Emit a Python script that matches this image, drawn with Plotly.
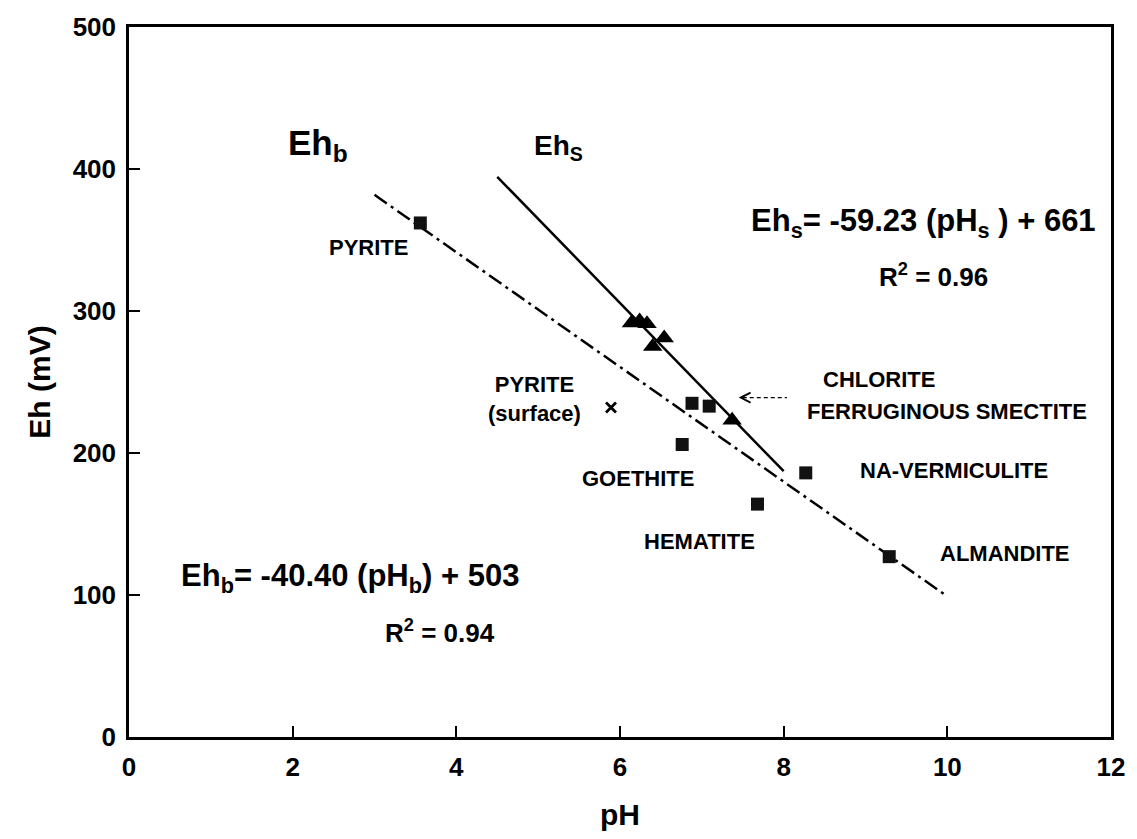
import plotly.graph_objects as go

# Surface Eh/pH measurements (triangles)
ph_surface = [6.14, 6.24, 6.33, 6.40, 6.54, 7.37]
eh_surface = [291.5, 293.0, 291.0, 275.0, 281.0, 223.0]

# Bulk mineral measurements (squares)
minerals = ["PYRITE", "CHLORITE", "FERRUGINOUS SMECTITE", "GOETHITE",
            "NA-VERMICULITE", "HEMATITE", "ALMANDITE"]
ph_bulk = [3.56, 6.88, 7.09, 6.76, 8.27, 7.68, 9.29]
eh_bulk = [362.0, 235.0, 233.0, 206.0, 186.0, 164.0, 127.0]

# Pyrite surface point (cross)
ph_pyrite_surface = [5.89]
eh_pyrite_surface = [232.0]

# Regression fits and their pH spans
slope_s, intercept_s, r2_s = -59.23, 661, 0.96
slope_b, intercept_b, r2_b = -40.40, 503, 0.94
span_s = [4.5, 8.0]
span_b = [3.0, 10.0]

x_ticks = [0, 2, 4, 6, 8, 10, 12]
y_ticks = [0, 100, 200, 300, 400, 500]

FONT = "Liberation Sans, Arial, Helvetica, sans-serif"

fig = go.Figure()

fig.add_trace(go.Scatter(
    x=span_b, y=[slope_b * v + intercept_b for v in span_b],
    mode="lines", line=dict(color="black", width=2.5, dash="15px,5px,3px,5px"),
    hoverinfo="skip", showlegend=False))
fig.add_trace(go.Scatter(
    x=span_s, y=[slope_s * v + intercept_s for v in span_s],
    mode="lines", line=dict(color="black", width=2.5),
    hoverinfo="skip", showlegend=False))

fig.add_trace(go.Scatter(
    x=ph_bulk, y=eh_bulk, mode="markers", text=minerals,
    marker=dict(symbol="square", size=13, color="#111111",
                line=dict(color="#111111", width=0)),
    showlegend=False))
fig.add_trace(go.Scatter(
    x=ph_surface, y=eh_surface, mode="markers",
    marker=dict(symbol="triangle-up", size=17, color="black",
                line=dict(width=0)),
    showlegend=False))
fig.add_trace(go.Scatter(
    x=ph_pyrite_surface, y=eh_pyrite_surface, mode="markers",
    marker=dict(symbol="x-thin-open", size=10, color="black",
                line=dict(color="black", width=2.8)),
    showlegend=False))

# Mineral labels: (x, y) of each label's centre
label_pos = {
    "PYRITE": (2.93, 345),
    "CHLORITE": (9.16, 252),
    "FERRUGINOUS SMECTITE": (9.99, 229),
    "GOETHITE": (6.22, 182),
    "NA-VERMICULITE": (10.08, 188),
    "HEMATITE": (6.97, 138),
    "ALMANDITE": (10.70, 129),
}
label_font = dict(family=FONT, size=22, color="black", weight="bold")
annotations = []
for name in minerals:
    lx, ly = label_pos[name]
    annotations.append(dict(x=lx, y=ly, text=name, showarrow=False, font=label_font,
                            xanchor="center", yanchor="middle"))
annotations.append(dict(x=4.96, y=238, text="PYRITE<br>(surface)", showarrow=False,
                        font=label_font, xanchor="center", yanchor="middle", align="center"))

# Line labels
annotations.append(dict(x=1.92, y=417, text="Eh<sub>b</sub>", showarrow=False,
                        font=dict(family=FONT, size=35, color="black", weight="bold"),
                        xanchor="left", yanchor="middle"))
annotations.append(dict(x=4.92, y=415, text="Eh<sub>S</sub>", showarrow=False,
                        font=dict(family=FONT, size=28, color="black", weight="bold"),
                        xanchor="left", yanchor="middle"))

# Regression equations
annotations.append(dict(x=11.84, y=362,
                        text=f"Eh<sub>s</sub>= {slope_s:.2f} (pH<sub>s</sub> ) + {intercept_s}",
                        showarrow=False, xanchor="right", yanchor="middle",
                        font=dict(family=FONT, size=31, color="black", weight="bold")))
annotations.append(dict(x=10.52, y=325, text=f"R<sup>2</sup> = {r2_s:.2f}",
                        showarrow=False, xanchor="right", yanchor="middle",
                        font=dict(family=FONT, size=26, color="black", weight="bold")))
annotations.append(dict(x=0.61, y=112,
                        text=f"Eh<sub>b</sub>= {slope_b:.2f} (pH<sub>b</sub>) + {intercept_b}",
                        showarrow=False, xanchor="left", yanchor="middle",
                        font=dict(family=FONT, size=31, color="black", weight="bold")))
annotations.append(dict(x=3.10, y=74, text=f"R<sup>2</sup> = {r2_b:.2f}",
                        showarrow=False, xanchor="left", yanchor="middle",
                        font=dict(family=FONT, size=26, color="black", weight="bold")))

# Pointer from the clay labels toward the surface line
annotations.append(dict(x=7.45, y=239, ax=7.52, ay=239, axref="x", ayref="y",
                        text="", showarrow=True, arrowhead=5, arrowsize=1.6,
                        arrowwidth=1.2, arrowcolor="black", standoff=0))

fig.add_shape(type="line", x0=7.50, x1=8.04, y0=239, y1=239, xref="x", yref="y",
              line=dict(color="black", width=1.2, dash="4px,3px"))

axis_common = dict(showline=True, linecolor="black", linewidth=2.5, mirror=True,
                   ticks="inside", ticklen=11, tickwidth=2, tickcolor="black",
                   showgrid=False, zeroline=False, ticklabelstandoff=5,
                   tickfont=dict(family=FONT, size=26, color="black", weight="bold"))

fig.update_layout(
    width=1137, height=839,
    margin=dict(l=129, r=19, t=23, b=97),
    paper_bgcolor="white", plot_bgcolor="white",
    annotations=annotations,
    xaxis=dict(range=[0, 12], tickvals=x_ticks,
               title=dict(text="pH", standoff=24,
                          font=dict(family=FONT, size=30, color="black", weight="bold")),
               **axis_common),
    yaxis=dict(range=[0, 500], tickvals=y_ticks,
               title=dict(text="Eh (mV)", standoff=14,
                          font=dict(family=FONT, size=30, color="black", weight="bold")),
               **axis_common),
)

fig.write_html("out.html")
